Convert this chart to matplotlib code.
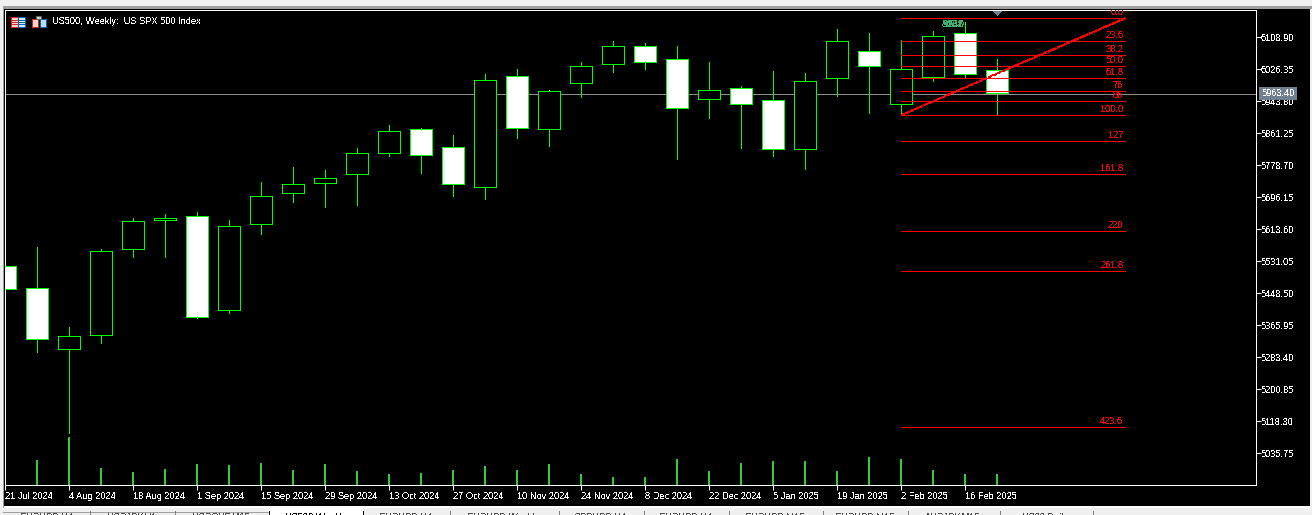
import matplotlib
matplotlib.use("Agg")
import matplotlib.pyplot as plt
from matplotlib.patches import Rectangle, Polygon

plt.rcParams['font.family'] = ['Liberation Sans', 'DejaVu Sans']
plt.rcParams['text.antialiased'] = False
plt.rcParams['text.hinting'] = 'native'

# ---- data ----
opens = [5518.2, 5462.7, 5305.3, 5341.4, 5563.3, 5636.8, 5647.1, 5405.9, 5627.8, 5707.8, 5733.6, 5756.8,
         5810.9, 5872.9, 5826.4, 5723.2, 6009.6, 5872.9, 5991.5, 6040.5, 6087.0, 6053.4, 5950.3, 5978.6,
         5947.7, 5821.3, 6004.4, 6074.1, 5937.4, 6007.0, 6120.5, 6025.1]
highs = [5518.2, 5568.5, 5362.1, 5563.3, 5643.3, 5653.6, 5658.7, 5638.1, 5736.1, 5774.8, 5767.1, 5823.8,
         5883.2, 5875.4, 5857.4, 6014.7, 6027.6, 5973.5, 6045.7, 6099.9, 6094.7, 6087.0, 6045.7, 5983.8,
         6022.5, 6017.3, 6130.8, 6120.5, 6102.5, 6125.7, 6148.9, 6053.4]
lows = [5460.1, 5297.6, 5088.6, 5320.8, 5542.7, 5542.7, 5385.3, 5398.2, 5602.0, 5684.5, 5671.6, 5676.8,
        5803.2, 5759.4, 5700.0, 5692.3, 5849.6, 5829.0, 5955.4, 6019.9, 6027.6, 5795.5, 5901.2, 5823.8,
        5803.2, 5769.7, 5958.0, 5914.1, 5909.0, 5996.7, 6007.0, 5909.0]
closes = [5460.1, 5331.1, 5338.9, 5558.1, 5635.5, 5643.3, 5387.9, 5622.6, 5700.0, 5731.0, 5746.5, 5810.9,
          5867.7, 5805.8, 5731.0, 5999.3, 5875.4, 5970.9, 6035.4, 6087.0, 6045.7, 5927.0, 5973.5, 5937.4,
          5821.3, 5996.7, 6099.9, 6035.4, 6027.6, 6112.8, 6014.7, 5965.7]
volumes = [0, 25, 48, 17, 13, 16, 21, 20, 22, 15, 21, 14, 11, 12, 15, 19, 15, 21, 11, 8, 8, 26, 14, 22,
           24, 24, 14, 28, 26, 15, 11, 11]
date_labels = ["21 Jul 2024", "4 Aug 2024", "18 Aug 2024", "1 Sep 2024", "15 Sep 2024", "29 Sep 2024",
               "13 Oct 2024", "27 Oct 2024", "10 Nov 2024", "24 Nov 2024", "8 Dec 2024", "22 Dec 2024",
               "5 Jan 2025", "19 Jan 2025", "2 Feb 2025", "16 Feb 2025"]
price_ticks = [6108.90, 6026.35, 5943.80, 5861.25, 5778.70, 5696.15, 5613.60, 5531.05, 5448.50, 5365.95,
               5283.40, 5200.85, 5118.30, 5035.75]
current_price = 5963.40
fib_labels = ["0.0", "23.6", "38.2", "50.0", "61.8", "76", "86", "100.0", "127", "161.8", "220", "261.8", "423.6"]
fib_prices = [6157.9, 6098.6, 6062.5, 6034.1, 6003.1, 5969.6, 5943.8, 5907.7, 5840.6, 5755.5, 5608.4, 5505.3, 5102.8]
fib_start, fib_end = 28, 35
tab_labels = ["EURUSD,H4", "USDJPY,H1", "USDCHF,M15", "US500,Weekly", "EURUSD,H4", "EURUSD,Weekly", "GBPUSD,H4",
              "EURUSD,H4", "EURUSD,M15", "EURUSD,M15", "AUDJPY,M15", "US30,Daily"]
tab_edges = [4, 89, 174, 268, 363, 449, 558, 643, 728, 822, 907, 999, 1092, 1200]

W, H = 1312, 515
LIME = '#00ff00'
VOL = '#32cd32'
RED = '#ff0000'
FS = 6.65
PX = 72 / 100

fig = plt.figure(figsize=(W / 100, H / 100), dpi=100, facecolor='#f0f0f0')

# window chrome in pixel coordinates
bg = fig.add_axes([0, 0, 1, 1], zorder=0)
bg.set_xlim(0, W); bg.set_ylim(H, 0); bg.axis('off')
bg.add_patch(Rectangle((2.5, 6), W - 3, 2.5, fc='#a0a0a0', ec='none', aa=False))
bg.add_patch(Rectangle((2.5, 6), 2, 502, fc='#a0a0a0', ec='none', aa=False))
bg.add_patch(Rectangle((4, 8.5), 1306, 497.5, fc='black', ec='none', aa=False))
bg.add_patch(Rectangle((4, 506), 1306, 2, fc='white', ec='none', aa=False))
bg.add_patch(Rectangle((268, 508), 95, 8, fc='white', ec='none', aa=False))
bg.plot([268.5, 268.5], [511, 515], color='black', lw=PX, aa=False)
bg.plot([362.5, 362.5], [511, 515], color='black', lw=PX, aa=False)
bg.plot([3, 268], [511.5, 511.5], color='#a0a0a0', lw=PX, aa=False)
for e in tab_edges[1:-1]:
    if e not in (268, 363):
        bg.plot([e + .5, e + .5], [511, 515], color='#808080', lw=PX, aa=False)
for lab, a, b in zip(tab_labels, tab_edges[:-1], tab_edges[1:]):
    bg.text((a + b) / 2, 513, lab, ha='center', va='top', fontsize=FS,
            color='black' if lab.startswith('US500') else '#505050')

# main price axes; frame lines sit just left/above pixel centres so they snap to the right rows
L, R, T, B = 5.2, 1256.2, 10.2, 485.2
ax = fig.add_axes([L / W, 1 - B / H, (R - L) / W, (B - T) / H], zorder=2, facecolor='none')
ax.set_xlim(0, (R - L) / 32)
ax.set_ylim(4953.2, 6178.55)
for s in ax.spines.values():
    s.set_color('white'); s.set_linewidth(PX)

xs = list(range(len(opens)))

# volume pane sharing the frame
vax = ax.twinx()
vax.set_ylim(0, 475)
vax.set_yticks([])
for s in vax.spines.values():
    s.set_visible(False)
vx = [x - 0.5 / 32 for x, v in zip(xs, volumes) if v]
vv = [v for v in volumes if v]
vax.set_zorder(1); ax.set_zorder(2)
vax.vlines(vx, 0, vv, color=VOL, lw=2 * PX, antialiased=False)

ax.axhline(current_price, color='#8c8c8c', lw=PX, antialiased=False, zorder=1)

for x, o, h, l, c in zip(xs, opens, highs, lows, closes):
    ax.plot([x, x], [l, h], color=LIME, lw=PX, antialiased=False, zorder=2, solid_capstyle='butt')
    up = c >= o
    x0, x1 = x - 11 / 32, x + 11 / 32
    ax.add_patch(Rectangle((x0, min(o, c)), x1 - x0, abs(c - o), facecolor='black' if up else 'white',
                           edgecolor='none', antialiased=False, zorder=3))
    ax.plot([x0, x1, x1, x0, x0], [o, o, c, c, o], color=LIME, lw=PX, antialiased=False, zorder=3.5,
            solid_joinstyle='miter')

# Fibonacci retracement
ax.hlines(fib_prices, fib_start, fib_end, color=RED, lw=PX, antialiased=False, zorder=4)
ax.plot([fib_start, fib_end], [fib_prices[7], fib_prices[0]], color=RED, lw=0.36, ls=(0, (6, 2.5)),
        antialiased=False, zorder=4)
for lab, p in zip(fib_labels, fib_prices):
    t = ax.annotate(lab, xy=(fib_end, p), xytext=(-2, 3), textcoords='offset pixels', ha='right',
                    va='baseline', fontsize=FS, color=RED, zorder=5, annotation_clip=False)
    t.set_clip_on(True); t.set_clip_box(ax.bbox)

# overlapping trade labels left of the highest candle's wick
for s in ("3681", "5131", "8:8:8", "9240"):
    ax.annotate(s, xy=(29.62, 6136.0), ha='center', va='baseline', fontsize=FS + .5, color='#3cb371', zorder=5)

# axes ticks
ax.yaxis.tick_right()
ax.set_yticks(price_ticks)
ax.set_yticklabels([f"{v:.2f}" for v in price_ticks])
ax.tick_params(axis='y', colors='white', length=5 * PX, width=PX, pad=-0.2, labelsize=FS)
ax.set_xticks(xs[::2])
ax.set_xticklabels(date_labels, ha='left')
ax.tick_params(axis='x', colors='white', length=5 * PX, width=PX, pad=1.5, labelsize=FS)

# current price tag
ax.annotate(f"{current_price:.2f}", xy=(1, current_price), xycoords=ax.get_yaxis_transform(), xytext=(5, 0),
            textcoords='offset pixels', ha='left', va='center', fontsize=FS, color='white', zorder=10,
            annotation_clip=False, bbox=dict(boxstyle='square,pad=0.25', fc='#708090', ec='none'))

# header: icons and title
fg = fig.add_axes([0, 0, 1, 1], zorder=5, facecolor='none')
fg.set_xlim(0, W); fg.set_ylim(H, 0); fg.axis('off')
fg.add_patch(Rectangle((10.5, 16.5), 7, 10, fc='#ffd8d0', ec='#e02020', lw=PX, aa=False))
fg.add_patch(Rectangle((17.5, 16.5), 7, 10, fc='#d8ecff', ec='#0060b0', lw=PX, aa=False))
for yy in (19.5, 21.5, 23.5):
    fg.plot([12, 17], [yy, yy], color='#e02020', lw=PX, aa=False)
    fg.plot([18, 24], [yy, yy], color='#0060b0', lw=PX, aa=False)
fg.add_patch(Rectangle((31.5, 18.5), 6, 8, fc='#ffd8d0', ec='#e02020', lw=PX, aa=False))
fg.add_patch(Rectangle((39.5, 18.5), 6, 8, fc='#b8dcf8', ec='#0060b0', lw=PX, aa=False))
fg.add_patch(Rectangle((36, 16), 5, 3, fc='#d0d0d0', ec='#606060', lw=PX, aa=False))
fg.text(52, 21.5, "US500, Weekly:  US SPX 500 Index", color='white', fontsize=FS, ha='left', va='center')
fg.add_patch(Polygon([(993, 11), (1002, 11), (997.5, 15.5)], fc='#708090', ec='none', aa=False))

fig.savefig('out.png', dpi=100, facecolor=fig.get_facecolor())
